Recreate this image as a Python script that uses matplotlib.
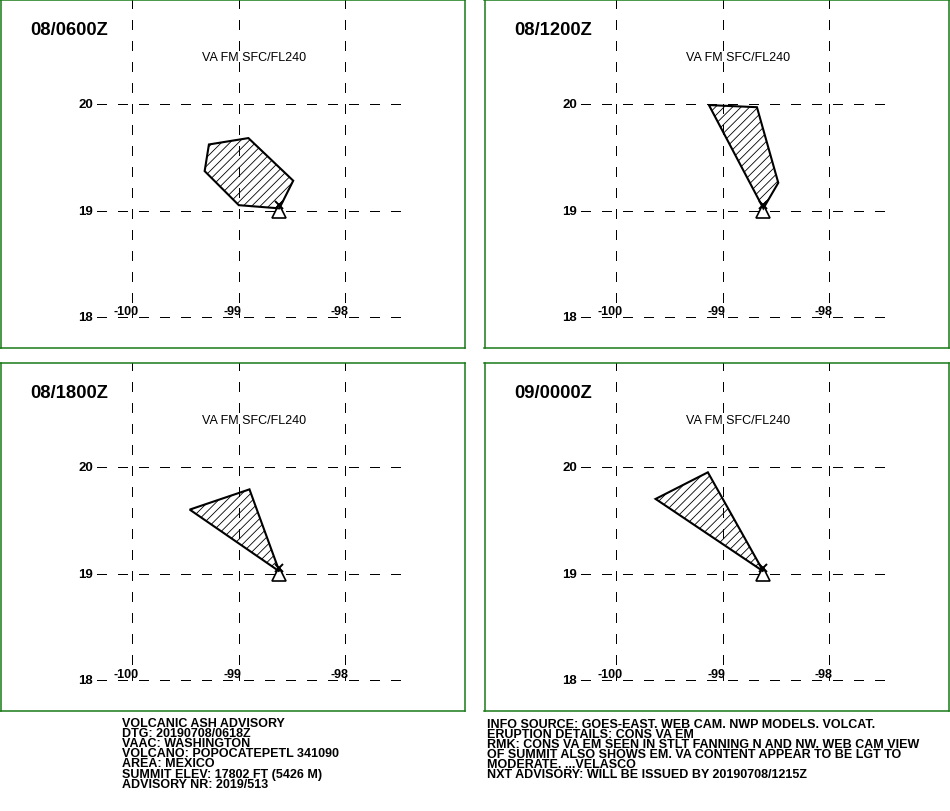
import numpy as np
import matplotlib
matplotlib.use("Agg")
import matplotlib.pyplot as plt
from matplotlib.patches import Polygon

plt.rcParams['font.family'] = ['Liberation Sans', 'DejaVu Sans']

W, H = 950, 812

# Forecast times and ash polygons (lon, lat)
times = ["08/0600Z", "08/1200Z", "08/1800Z", "09/0000Z"]
level = "VA FM SFC/FL240"
poly_lon = [
    [-99.28, -98.91, -98.49, -98.62, -99.00, -99.32],
    [-99.13, -98.68, -98.48, -98.62],
    [-99.46, -98.90, -98.62],
    [-99.63, -99.14, -98.62],
]
poly_lat = [
    [19.62, 19.68, 19.28, 19.02, 19.05, 19.37],
    [19.99, 19.97, 19.26, 19.02],
    [19.60, 19.79, 19.02],
    [19.70, 19.95, 19.02],
]
summit_lon = -98.62
summit_lat = 19.0

lon_ticks = [-100, -99, -98]
lat_ticks = [20, 19, 18]

left_text = [
    "VOLCANIC ASH ADVISORY",
    "DTG: 20190708/0618Z",
    "VAAC: WASHINGTON",
    "VOLCANO: POPOCATEPETL 341090",
    "AREA: MEXICO",
    "SUMMIT ELEV: 17802 FT (5426 M)",
    "ADVISORY NR: 2019/513",
]
right_text = [
    "INFO SOURCE: GOES-EAST. WEB CAM. NWP MODELS. VOLCAT.",
    "ERUPTION DETAILS: CONS VA EM",
    "RMK: CONS VA EM SEEN IN STLT FANNING N AND NW. WEB CAM VIEW",
    "OF SUMMIT ALSO SHOWS EM. VA CONTENT APPEAR TO BE LGT TO",
    "MODERATE. ...VELASCO",
    "NXT ADVISORY: WILL BE ISSUED BY 20190708/1215Z",
]

# panel boxes in pixels: left, top, right, bottom
panels = [(0.5, 0.5, 465, 348.5), (484.5, 0.5, 949, 348.5),
          (0.5, 363.5, 465, 711.5), (484.5, 363.5, 949, 711.5)]

PX_LON = 106.7   # pixels per degree
PX_LAT = 106.5
GREEN = "#1a7a1a"

fig = plt.figure(figsize=(W / 100, H / 100), dpi=100, facecolor="white")


def draw_panel(i):
    x0, y0, x1, y1 = panels[i]
    ax = fig.add_axes([x0 / W, 1 - y1 / H, (x1 - x0) / W, (y1 - y0) / H])
    # grid line -100 sits 132 px from the panel edge, lat 20 sits 104 px down
    ax.set_xlim(-100 - 131.6 / PX_LON, -100 + (x1 - x0 - 131.6) / PX_LON)
    ax.set_ylim(20 - (y1 - y0 - 104.5) / PX_LAT, 20 + 104.5 / PX_LAT)
    ax.set_xticks([])
    ax.set_yticks([])
    for s in ax.spines.values():
        s.set_color(GREEN)
        s.set_linewidth(1.1)

    top = ax.get_ylim()[1] + 2 / PX_LAT
    for lon in lon_ticks:
        ax.plot([lon, lon], [top, 18], color="black", lw=0.72,
                ls=(0, (9.3, 11)), antialiased=False)
    for lat in lat_ticks:
        ax.plot([-100.33, -97.45], [lat, lat], color="black", lw=0.72,
                ls=(0, (9.3, 11)), antialiased=False)

    for lat in lat_ticks:
        ax.annotate(str(lat), (-100.33, lat), xytext=(-4, 0), textcoords="offset pixels",
                    ha="right", va="center", fontsize=9.5, fontweight="bold")
    for lon in lon_ticks:
        ax.annotate(str(lon), (lon, 18), xytext=(-6, 0), textcoords="offset pixels",
                    ha="center", va="bottom", fontsize=9, fontweight="bold")

    # ash area with hatch lines clipped to the polygon, grid shows through
    pts = np.column_stack([poly_lon[i], poly_lat[i]])
    poly = Polygon(pts, closed=True, fc="none", ec="black", lw=1.5, zorder=3,
                   joinstyle="miter")
    ax.add_patch(poly)
    for c in np.arange(116, 120, 0.08):
        xs = np.array([-100.0, -98.0])
        ln, = ax.plot(xs, xs + c, color="black", lw=0.6, zorder=3.5)
        ln.set_clip_path(poly)

    # summit marker
    ax.plot(summit_lon, summit_lat, marker="^", ms=10, mfc="none", mec="black",
            mew=1.2, zorder=5, clip_on=False)
    ax.plot(summit_lon, summit_lat + 0.05, marker="x", ms=6, mec="black",
            mew=1.4, zorder=5)

    fig.text((x0 + 30) / W, 1 - (y0 + 34.5) / H, times[i], fontsize=13.2,
             fontweight="bold", va="baseline")
    fig.text((x0 + 201.5) / W, 1 - (y0 + 60.5) / H, level, fontsize=9, va="baseline")


for i in range(4):
    draw_panel(i)

for n, line in enumerate(left_text):
    fig.text(122 / W, 1 - (726.7 + n * 10.2) / H, line, fontsize=9.0, va="baseline",
             fontweight="bold")
for n, line in enumerate(right_text):
    fig.text(487 / W, 1 - (727.7 + n * 10.0) / H, line, fontsize=9.0, va="baseline",
             fontweight="bold")

fig.savefig("out.png", dpi=100)
